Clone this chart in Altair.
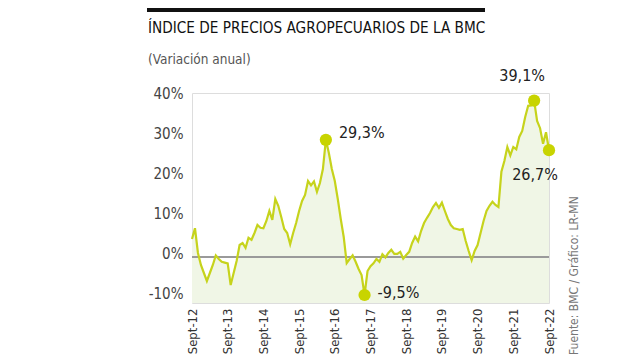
import json
import altair as alt
import pandas as pd

# Monthly annual variation (%) of the BMC agricultural price index, Sept-2012 .. Sept-2022
values = [
    4.5, 7.2, 1.0, -2.0, -4.0, -6.0, -4.0, -2.0, 0.4, -0.5, -1.2, -1.4,
    -1.6, -7.0, -4.0, -1.0, 3.0, 3.5, 2.3, 4.8, 4.3, 6.0, 8.0, 7.3,
    7.2, 9.0, 11.5, 9.3, 14.5, 12.8, 10.0, 7.0, 6.0, 3.2, 6.0, 8.5,
    11.5, 14.0, 15.5, 19.0, 17.9, 18.9, 16.3, 18.5, 22.0, 29.3, 26.0, 22.0,
    19.0, 14.5, 9.5, 5.0, -1.5, -0.5, 0.4, -1.2, -3.0, -4.5, -9.5, -3.5,
    -2.3, -1.6, -0.5, -1.2, 0.7, -0.1, 1.0, 1.8, 0.8, 0.8, 1.3, -0.4,
    0.5, 1.3, 3.5, 5.1, 3.9, 6.5, 8.5, 9.8, 11.0, 12.5, 13.5, 12.3,
    13.6, 11.5, 9.5, 8.0, 7.2, 7.0, 6.8, 7.0, 4.0, 1.5, -0.8, 1.5,
    3.0, 6.0, 9.0, 11.5, 12.8, 13.8, 13.0, 12.5, 21.3, 24.0, 27.5, 25.4,
    27.5, 26.9, 30.0, 31.5, 35.0, 37.8, 37.9, 39.1, 34.0, 32.2, 28.3, 31.2,
    26.7,
]
month_index = list(range(len(values)))

tick_positions = [0, 12, 24, 36, 48, 60, 72, 84, 96, 108, 120]
tick_labels = ["Sept-12", "Sept-13", "Sept-14", "Sept-15", "Sept-16", "Sept-17",
               "Sept-18", "Sept-19", "Sept-20", "Sept-21", "Sept-22"]
y_ticks = [-10, 0, 10, 20, 30, 40]

highlight_months = [45, 58, 115, 120]
highlight_values = [29.3, -9.5, 39.1, 26.7]
highlight_labels = ["29,3%", "-9,5%", "39,1%", "26,7%"]

title_text = "ÍNDICE DE PRECIOS AGROPECUARIOS DE LA BMC"
subtitle_text = "(Variación anual)"
source_text = "Fuente: BMC / Gráfico: LR-MN"

FONT = "DejaVu Sans Condensed, Liberation Sans Narrow, sans-serif"
LINE = "#c6d31c"
DOT = "#c8d400"
FILL = "#f0f6e6"

df = pd.DataFrame({"m": month_index, "v": values})
hl = pd.DataFrame({"m": highlight_months, "v": highlight_values, "label": highlight_labels})

W, H = 357, 210
ydom = [-11.5, 41]

label_map = json.dumps(dict(zip([str(p) for p in tick_positions], tick_labels)), ensure_ascii=False)

x = alt.X(
    "m:Q",
    scale=alt.Scale(domain=[0, 120], nice=False, zero=False),
    axis=alt.Axis(
        values=tick_positions,
        labelExpr=f"{label_map}[''+datum.value]",
        labelAngle=270, labelAlign="right", labelBaseline="middle",
        ticks=False, domain=False, grid=False, title=None,
        labelPadding=5, labelFontSize=13, labelColor="#333", labelFont=FONT,
    ),
)
y = alt.Y(
    "v:Q",
    scale=alt.Scale(domain=ydom, nice=False, zero=False),
    axis=alt.Axis(
        values=y_ticks,
        labelExpr="datum.value + '%'",
        ticks=False, domain=False, grid=False, title=None,
        labelPadding=9, labelOffset=-4, labelFontSize=15, labelColor="#444", labelFont=FONT,
    ),
)

base = alt.Chart(df)
area = base.mark_area(color=FILL, opacity=1).encode(x=x, y=y, y2=alt.datum(ydom[0]))
zero = alt.Chart(pd.DataFrame({"z": [0]})).mark_rule(color="#9a9a9a", strokeWidth=2).encode(y="z:Q")
line = base.mark_line(color=LINE, strokeWidth=2.2).encode(x=x, y=y)

hb = alt.Chart(hl)
dots = hb.mark_circle(size=150, color=DOT, opacity=1).encode(x=x, y=y)

def lab(label, **kw):
    return hb.transform_filter(alt.datum.label == label).mark_text(
        font=FONT, fontSize=16, color="#222", **kw
    ).encode(x=x, y=y, text="label:N")

t1 = lab("29,3%", align="left", baseline="middle", dx=13, dy=-7)
t2 = lab("-9,5%", align="left", baseline="middle", dx=13, dy=-2)
t3 = lab("39,1%", align="center", baseline="middle", dx=-12, dy=-25)
t4 = lab("26,7%", align="center", baseline="middle", dx=-14, dy=25)

one = pd.DataFrame({"a": [0]})
topbar = alt.Chart(one).mark_rule(color="#111", strokeWidth=4).encode(
    x=alt.value(-45), x2=alt.value(293), y=alt.value(-83)
)
title = alt.Chart(one).mark_text(
    align="left", baseline="alphabetic", font=FONT, fontSize=15.2, fontWeight=500, color="#111"
).encode(x=alt.value(-44), y=alt.value(-60), text=alt.value(title_text))
subtitle = alt.Chart(one).mark_text(
    align="left", baseline="alphabetic", font=FONT, fontSize=13.5, color="#555"
).encode(x=alt.value(-44), y=alt.value(-29), text=alt.value(subtitle_text))
source = alt.Chart(one).mark_text(
    angle=270, align="left", baseline="middle", font=FONT, fontSize=12, color="#777"
).encode(x=alt.value(382), y=alt.value(262), text=alt.value(source_text))

chart = alt.layer(area, zero, line, dots, t1, t2, t3, t4, topbar, title, subtitle, source).properties(
    width=W, height=H,
    autosize=alt.AutoSizeParams(type="none"),
    padding={"left": 184, "top": 85, "right": 85, "bottom": 51},
).configure_view(stroke=None).configure(background="white")

chart.save("out.html", embed_options={"renderer": "svg", "actions": False})
